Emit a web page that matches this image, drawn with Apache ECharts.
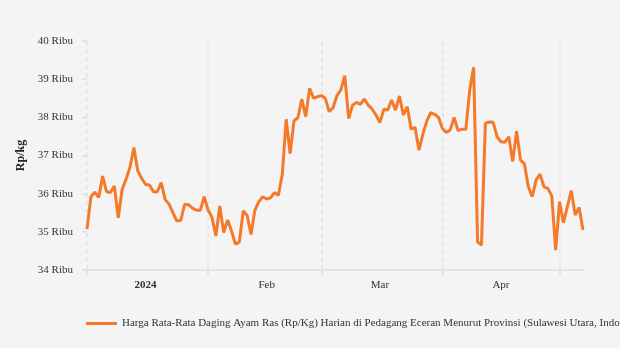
<!DOCTYPE html>
<html>
<head>
<meta charset="utf-8">
<script src="https://cdn.jsdelivr.net/npm/echarts@6/dist/echarts.min.js"></script>
<style>
html,body{margin:0;padding:0;background:#f4f4f4;}
#c{width:620px;height:348px;}
</style>
</head>
<body>
<div id="c"></div>
<script>
// Daily dates 2024-01-01 .. 2024-05-07
var startDate = '2024-01-01';
var dayCount = 128;
var monthLabels = ['2024', 'Feb', 'Mar', 'Apr'];
var yTicks = [34, 35, 36, 37, 38, 39, 40];
var seriesName = 'Harga Rata-Rata Daging Ayam Ras (Rp/Kg) Harian di Pedagang Eceran Menurut Provinsi (Sulawesi Utara, Indonesia)';
// Prices in thousands of Rupiah (Ribu)
var prices = [
  35.07, 35.92, 36.04, 35.90, 36.46, 36.05, 36.03, 36.20, 35.37, 36.11,
  36.38, 36.69, 37.21, 36.60, 36.40, 36.24, 36.23, 36.05, 36.05, 36.29,
  35.85, 35.73, 35.50, 35.28, 35.30, 35.72, 35.71, 35.62, 35.57, 35.56,
  35.92, 35.57, 35.38, 34.89, 35.68, 34.98, 35.31, 35.02, 34.68, 34.73,
  35.55, 35.43, 34.93, 35.57, 35.79, 35.92, 35.86, 35.89, 36.03, 35.96,
  36.50, 37.95, 37.05, 37.91, 37.99, 38.48, 38.02, 38.76, 38.50, 38.54,
  38.57, 38.50, 38.15, 38.25, 38.57, 38.72, 39.09, 37.97, 38.32, 38.39,
  38.34, 38.48, 38.32, 38.22, 38.06, 37.86, 38.21, 38.19, 38.45, 38.19,
  38.56, 38.06, 38.28, 37.69, 37.74, 37.14, 37.56, 37.90, 38.12, 38.08,
  38.00, 37.71, 37.60, 37.67, 38.00, 37.65, 37.69, 37.69, 38.72, 39.31,
  34.74, 34.65, 37.84, 37.88, 37.87, 37.49, 37.36, 37.35, 37.49, 36.84,
  37.64, 36.88, 36.78, 36.18, 35.92, 36.36, 36.51, 36.18, 36.14, 35.94,
  34.52, 35.79, 35.24, 35.66, 36.08, 35.44, 35.64, 35.05
];

var dates = [];
(function(){
  var d0 = new Date(startDate + 'T00:00:00Z');
  for (var i = 0; i < dayCount; i++) {
    var d = new Date(d0.getTime() + i * 86400000);
    dates.push(d.toISOString().slice(0, 10));
  }
})();
function dayOfMonth(s){ return parseInt(s.slice(8, 10), 10); }
function monthIdx(s){ return parseInt(s.slice(5, 7), 10) - 1; }

var FONT = '"Liberation Serif", "DejaVu Serif", serif';
var chart = echarts.init(document.getElementById('c'), null, {renderer: 'canvas'});
chart.setOption({
  backgroundColor: '#f4f4f4',
  animation: false,
  textStyle: {fontFamily: FONT},
  grid: {left: 87, right: 37, top: 41, bottom: 78},
  legend: {
    left: 81, top: 313,
    itemWidth: 31, itemHeight: 3, itemGap: 10,
    icon: 'rect',
    textStyle: {fontFamily: FONT, fontSize: 11, color: '#333'},
    data: [seriesName]
  },
  xAxis: {
    type: 'category',
    data: dates,
    boundaryGap: false,
    axisLine: {show: true, lineStyle: {color: '#e3e3e3', width: 2}},
    axisTick: {
      show: true, length: 5,
      interval: function(i, v){ return dayOfMonth(v) === 1; },
      lineStyle: {color: '#e3e3e3', width: 2}
    },
    splitLine: {
      show: true,
      interval: function(i, v){ return dayOfMonth(v) === 1; },
      lineStyle: {color: '#e0e0e0', type: [4, 4], width: 1.5}
    },
    axisLabel: {
      interval: function(i, v){ return dayOfMonth(v) === 16; },
      margin: 10,
      fontFamily: FONT, fontSize: 11, color: '#333',
      formatter: function(v){
        var m = monthIdx(v);
        return m === 0 ? '{b|' + monthLabels[0] + '}' : monthLabels[m];
      },
      rich: {b: {fontWeight: 'bold', fontFamily: FONT, fontSize: 11, color: '#333'}}
    }
  },
  yAxis: {
    type: 'value',
    min: yTicks[0], max: yTicks[yTicks.length - 1], interval: 1,
    name: 'Rp/kg',
    nameLocation: 'middle',
    nameGap: 56,
    nameRotate: 90,
    nameTextStyle: {fontFamily: FONT, fontSize: 12, fontWeight: 'bold', color: '#222'},
    axisLine: {show: false},
    axisTick: {show: true, length: 5, lineStyle: {color: '#e3e3e3', width: 2}},
    splitLine: {show: false},
    axisLabel: {
      margin: 14,
      fontFamily: FONT, fontSize: 11, color: '#333',
      formatter: function(v){ return v + ' Ribu'; }
    }
  },
  series: [{
    name: seriesName,
    type: 'line',
    data: prices,
    showSymbol: false,
    symbol: 'none',
    color: '#f47a2b',
    lineStyle: {width: 3, color: '#f47a2b'}
  }]
});
</script>
</body>
</html>
